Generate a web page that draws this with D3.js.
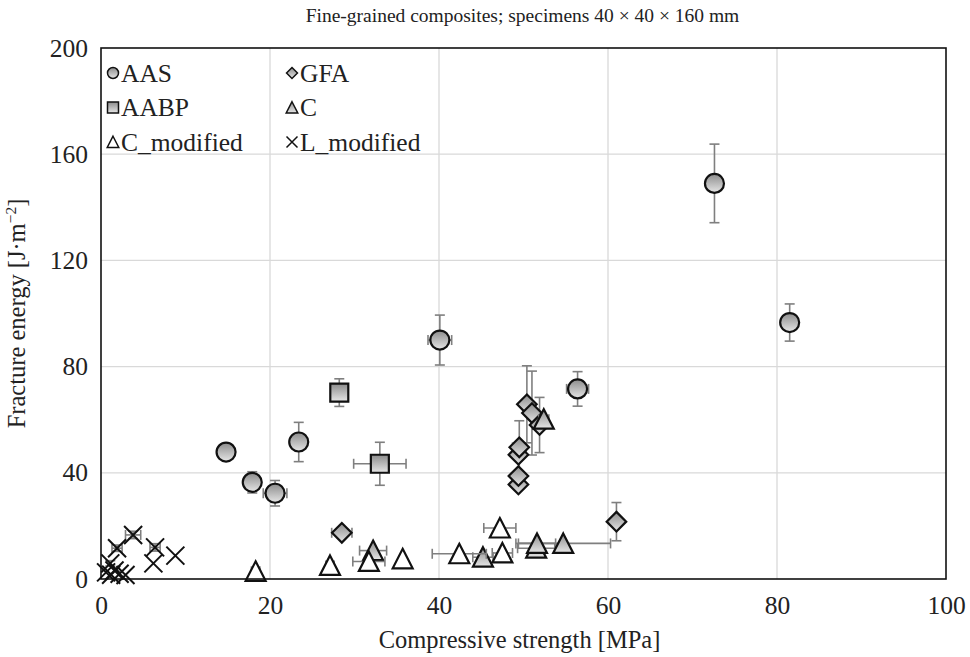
<!DOCTYPE html>
<html>
<head>
<meta charset="utf-8">
<script src="https://cdn.jsdelivr.net/npm/d3@7"></script>
<style>
body { margin: 0; background: #fff; }
text { font-family: "Liberation Serif", "Times New Roman", serif; fill: #222; }
</style>
</head>
<body>
<div class="canva"></div>
<script>
// values: x = compressive strength, y = fracture energy
const aasX = [14.8, 17.9, 20.6, 23.4, 40.1, 56.4, 72.6, 81.5];
const aasY = [47.8, 36.4, 32.3, 51.6, 90.0, 71.6, 149.0, 96.6];
const aasXErr = [0, 0, 1.4, 0, 1.4, 1.3, 0, 0];
const aasYErr = [0, 4.0, 4.8, 7.4, 9.4, 6.5, 14.8, 7.0];

const aabpX = [28.2, 33.0];
const aabpY = [70.2, 43.4];
const aabpXErr = [0.9, 3.1];
const aabpYErr = [5.2, 8.1];

const gfaX = [28.5, 49.4, 49.4, 49.4, 49.5, 50.4, 51.0, 51.9, 61.0];
const gfaY = [17.4, 35.6, 38.8, 46.8, 49.6, 65.8, 62.5, 58.0, 21.6];
const gfaXErr = [1.2, 0, 0, 0, 0.8, 0, 0, 0, 0];
const gfaYErr = [0, 0, 0, 0, 10.0, 14.5, 15.8, 10.4, 7.2];

const cX = [32.2, 45.2, 51.5, 51.6, 54.7, 52.4];
const cY = [10.7, 8.2, 11.6, 13.4, 13.4, 60.2];
const cXErr = [1.6, 1.2, 2.2, 2.2, 5.6, 0.6];
const cYErr = [0, 0, 0, 0, 0, 0];

const cmodX = [18.3, 27.1, 31.7, 35.7, 42.4, 47.5, 47.2];
const cmodY = [2.9, 5.1, 6.6, 7.6, 9.5, 9.8, 19.2];
const cmodXErr = [0.5, 0.5, 1.9, 0, 3.2, 1.2, 1.9];
const cmodYErr = [0, 0, 0, 0, 0, 0, 0];

const lmodX = [3.8, 1.9, 6.4, 6.2, 8.8, 1.1, 0.6, 1.2, 1.6, 2.2, 2.9];
const lmodY = [16.6, 11.6, 11.9, 5.9, 8.8, 5.9, 2.5, 1.6, 3.2, 2.0, 1.5];
const lmodXErr = [0.9, 0.6, 0.6, 0, 0, 0, 0, 0, 0, 0, 0];
const lmodYErr = [1.4, 1.2, 1.4, 0, 0, 1.0, 0, 0, 0, 0, 0];

const xTicks = [0, 20, 40, 60, 80, 100];
const yTicks = [0, 40, 80, 120, 160, 200];

const legendNames = ['AAS', 'GFA', 'AABP', 'C', 'C_modified', 'L_modified'];
const legendShapes = ['circle', 'diamond', 'square', 'triangleFill', 'triangle', 'cross'];

const width = 970, height = 657;
const margin = {top: 48, right: 24, bottom: 78, left: 101};
const w = width - margin.left - margin.right;
const h = height - margin.top - margin.bottom;

const svg = d3.select('.canva').append('svg')
  .attr('width', width)
  .attr('height', height);

const defs = svg.append('defs');
const grad = defs.append('linearGradient')
  .attr('id', 'mk').attr('x1', 0).attr('y1', 0).attr('x2', 0).attr('y2', 1);
grad.append('stop').attr('offset', '0%').attr('stop-color', '#8c8c8c');
grad.append('stop').attr('offset', '100%').attr('stop-color', '#e6e6e6');

const x = d3.scaleLinear().domain([0, 100]).range([0, w]);
const y = d3.scaleLinear().domain([0, 200]).range([h, 0]);

const g = svg.append('g').attr('transform', `translate(${margin.left},${margin.top})`);

// grid
g.append('g').selectAll('line').data(xTicks.slice(1, -1)).enter().append('line')
  .attr('x1', d => x(d)).attr('x2', d => x(d))
  .attr('y1', 0).attr('y2', h)
  .attr('stroke', '#d9d9d9').attr('stroke-width', 1.3);
g.append('g').selectAll('line').data(yTicks.slice(1, -1)).enter().append('line')
  .attr('x1', 0).attr('x2', w)
  .attr('y1', d => y(d)).attr('y2', d => y(d))
  .attr('stroke', '#d9d9d9').attr('stroke-width', 1.3);

// axes (labels only, frame drawn separately)
const xAxis = g.append('g').attr('transform', `translate(0,${h})`)
  .call(d3.axisBottom(x).tickValues(xTicks).tickSize(0).tickPadding(17));
const yAxis = g.append('g')
  .call(d3.axisLeft(y).tickValues(yTicks).tickSize(0).tickPadding(13));
[xAxis, yAxis].forEach(a => {
  a.select('.domain').remove();
  a.attr('font-family', null);
  a.selectAll('text').style('font-size', '25.5px').attr('fill', '#222');
});

// shapes
function shapePath(type, s) {
  const r = s / 2;
  if (type === 'circle') return d3.symbol(d3.symbolCircle, Math.PI * r * r)();
  if (type === 'square') return `M${-r},${-r}H${r}V${r}H${-r}Z`;
  if (type === 'diamond') { const q = r * 1.15; return `M0,${-q}L${q},0L0,${q}L${-q},0Z`; }
  if (type === 'triangle' || type === 'triangleFill') {
    const t = r * 1.05;
    return `M0,${-t}L${t},${t * 0.95}L${-t},${t * 0.95}Z`;
  }
  if (type === 'cross') return `M${-r},${-r}L${r},${r}M${r},${-r}L${-r},${r}`;
}

function drawSeries(xs, ys, xe, ye, type, size) {
  const data = xs.map((d, i) => ({x: d, y: ys[i], xe: xe[i], ye: ye[i]}));
  const eb = g.append('g').attr('stroke', '#7f7f7f').attr('stroke-width', 1.6).attr('fill', 'none');
  const cap = 5;
  data.filter(d => d.ye > 0).forEach(d => {
    eb.append('line').attr('x1', x(d.x)).attr('x2', x(d.x)).attr('y1', y(d.y - d.ye)).attr('y2', y(d.y + d.ye));
    [d.y - d.ye, d.y + d.ye].forEach(v => eb.append('line')
      .attr('x1', x(d.x) - cap).attr('x2', x(d.x) + cap).attr('y1', y(v)).attr('y2', y(v)));
  });
  data.filter(d => d.xe > 0).forEach(d => {
    eb.append('line').attr('x1', x(d.x - d.xe)).attr('x2', x(d.x + d.xe)).attr('y1', y(d.y)).attr('y2', y(d.y));
    [d.x - d.xe, d.x + d.xe].forEach(v => eb.append('line')
      .attr('x1', x(v)).attr('x2', x(v)).attr('y1', y(d.y) - cap).attr('y2', y(d.y) + cap));
  });
  g.append('g').selectAll('path').data(data).enter().append('path')
    .attr('transform', d => `translate(${x(d.x)},${y(d.y)})`)
    .attr('d', shapePath(type, size))
    .attr('fill', type === 'triangle' ? '#fff' : (type === 'cross' ? 'none' : 'url(#mk)'))
    .attr('stroke', '#111')
    .attr('stroke-width', type === 'cross' ? 2 : 2.2)
    .attr('stroke-linejoin', 'miter');
}

drawSeries(aasX, aasY, aasXErr, aasYErr, 'circle', 19);
drawSeries(aabpX, aabpY, aabpXErr, aabpYErr, 'square', 18);
drawSeries(gfaX, gfaY, gfaXErr, gfaYErr, 'diamond', 17);
drawSeries(cX, cY, cXErr, cYErr, 'triangleFill', 19);
drawSeries(cmodX, cmodY, cmodXErr, cmodYErr, 'triangle', 19);
drawSeries(lmodX, lmodY, lmodXErr, lmodYErr, 'cross', 18);

// frame
g.append('rect').attr('width', w).attr('height', h)
  .attr('fill', 'none').attr('stroke', '#111').attr('stroke-width', 1.6);

// legend
const legend = g.append('g');
legendNames.forEach((name, i) => {
  const col = i % 2, row = Math.floor(i / 2);
  const lx = 12 + col * 179, ly = 25 + row * 34.5;
  const item = legend.append('g').attr('transform', `translate(${lx},${ly})`);
  item.append('path').attr('d', shapePath(legendShapes[i], legendShapes[i] === 'diamond' ? 9.5 : 11))
    .attr('fill', legendShapes[i] === 'triangle' ? '#fff' : (legendShapes[i] === 'cross' ? 'none' : 'url(#mk)'))
    .attr('stroke', '#111').attr('stroke-width', 1.5);
  item.append('text').attr('x', 8).attr('y', 8.5)
    .style('font-size', '25.5px').text(name);
});

// titles
svg.append('text').attr('x', margin.left + w / 2 - 1).attr('y', 22)
  .attr('text-anchor', 'middle').style('font-size', '19.5px')
  .text('Fine-grained composites; specimens 40 × 40 × 160 mm');
svg.append('text').attr('x', margin.left + w / 2 - 4).attr('y', 648)
  .attr('text-anchor', 'middle').style('font-size', '24.5px')
  .text('Compressive strength [MPa]');
const yl = svg.append('text')
  .attr('transform', `translate(25,${margin.top + h / 2}) rotate(-90)`)
  .attr('text-anchor', 'middle').style('font-size', '24.5px');
yl.append('tspan').text('Fracture energy [J·m');
yl.append('tspan').attr('dy', -9).style('font-size', '15.5px').text('−2');
yl.append('tspan').attr('dy', 9).text(']');
</script>
</body>
</html>
